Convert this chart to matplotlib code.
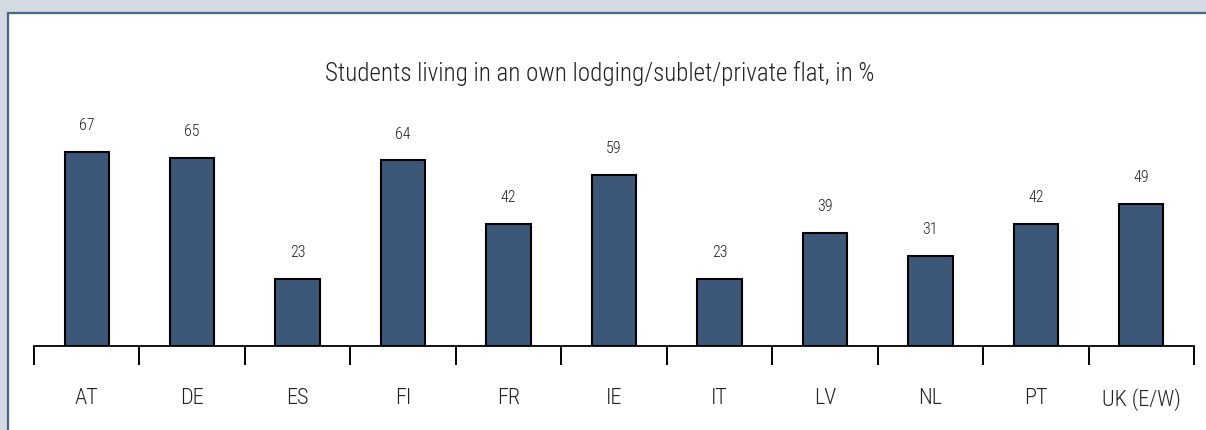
import matplotlib
matplotlib.use("Agg")
import matplotlib.pyplot as plt
from matplotlib.patches import Rectangle
from matplotlib import font_manager

countries = ["AT", "DE", "ES", "FI", "FR", "IE", "IT", "LV", "NL", "PT", "UK (E/W)"]
shares = [67, 65, 23, 64, 42, 59, 23, 39, 31, 42, 49]
title = "Students living in an own lodging/sublet/private flat, in %"

available = {f.name for f in font_manager.fontManager.ttflist}
family = [f for f in ["Liberation Sans Narrow", "Roboto Condensed", "Roboto", "DejaVu Sans"] if f in available]
plt.rcParams["font.family"] = family

W, H = 1206, 430
fig = plt.figure(figsize=(W / 100, H / 100), dpi=100)
fig.patch.set_facecolor("#d3dae2")

# white panel with a dark blue rule along its top and left edges
panel = Rectangle((8 / W, -0.05), 1.1, (H - 13) / H + 0.05, transform=fig.transFigure,
                  facecolor="white", edgecolor="#4a6585", linewidth=1.6, zorder=-10)
fig.patches.append(panel)

ax_left, ax_right = 34, 1194
base_y, top_y = 346, 100
scale = 2.9  # pixels per percentage point
ax = fig.add_axes([ax_left / W, (H - base_y) / H, (ax_right - ax_left) / W, (base_y - top_y) / H])
ax.set_facecolor("none")
ax.set_zorder(5)

x = list(range(len(countries)))
bars = ax.bar(x, shares, width=0.42, color="#3b5878", edgecolor="black", linewidth=1.5, zorder=3)
for xi, v in zip(x, shares):
    ax.annotate(str(v), (xi, v), xytext=(0, 19), textcoords="offset points",
                ha="center", va="center", fontsize=11.5, color="#222222", fontweight="light")

ax.set_xlim(-0.5, len(countries) - 0.5)
ax.set_ylim(0, (base_y - top_y) / scale)

for s in ["top", "right", "left"]:
    ax.spines[s].set_visible(False)
ax.spines["bottom"].set_linewidth(1.3)
ax.spines["bottom"].set_color("black")
ax.set_yticks([])

ax.set_xticks([i - 0.5 for i in range(len(countries) + 1)])
ax.set_xticklabels([])
ax.tick_params(axis="x", which="major", direction="out", length=13.5, width=1.4, color="black")
ax.set_xticks(x, minor=True)
ax.set_xticklabels(countries, minor=True, fontweight="light")
ax.tick_params(axis="x", which="minor", length=0, pad=30, labelsize=16, labelcolor="#222222")

fig.text(600 / W, 1 - 73 / H, title, ha="center", va="center", fontsize=18,
         color="#222222", fontweight="light")

fig.savefig("out.png", dpi=100, facecolor=fig.get_facecolor())
